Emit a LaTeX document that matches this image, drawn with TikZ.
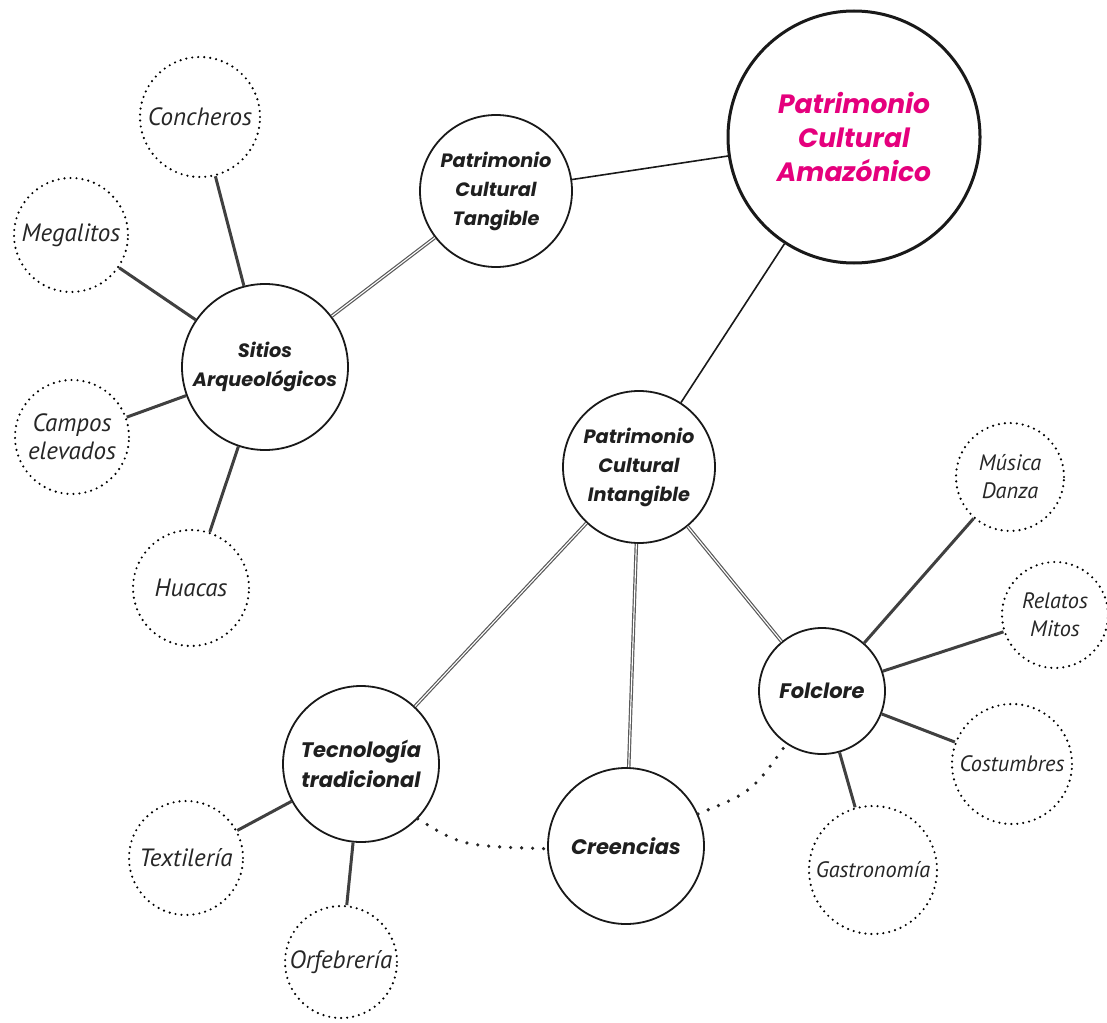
\documentclass[tikz,border=0pt]{standalone}
\usepackage{fontspec}
\newfontfamily\headfont{Poppins}
\newfontfamily\leaffont{PT Sans}
\definecolor{pcmag}{HTML}{E5007D}
\usetikzlibrary{calc}
\begin{document}
\begin{tikzpicture}[x=1pt,y=-1pt,
  hub/.style={circle, draw=black!90, line width=1.8pt, fill=white, inner sep=0pt, align=center, text=black!88,
    font=\headfont\bfseries\itshape\fontsize{19.3}{29}\selectfont},
  bighub/.style={hub, line width=3pt, text=pcmag, font=\headfont\bfseries\itshape\fontsize{26.5}{34}\selectfont},
  midhub/.style={hub, font=\headfont\bfseries\itshape\fontsize{21}{30}\selectfont},
  leaf/.style={circle, draw=black, line width=2.4pt, dash pattern=on 0pt off 6pt, line cap=round,
    inner sep=0pt, align=center, text=black!85, font=\leaffont\itshape\fontsize{25}{28}\selectfont},
  smallleaf/.style={leaf, font=\leaffont\itshape\fontsize{22.3}{28}\selectfont},
  plain/.style={line width=1.6pt, draw=black!90},
  dbl/.style={draw=black!65, line width=1.2pt, double=white, double distance=1.1pt},
  twig/.style={line width=3pt, draw=black!75},
  dotline/.style={line width=3.6pt, dash pattern=on 0pt off 11pt, line cap=round, draw=black!85}
]
\useasboundingbox (0,0) rectangle (1107,1022);

% main nodes
\node[bighub, minimum size=252pt] (amaz) at (854,137) {Patrimonio\\ Cultural\\Amazónico};
\node[hub, minimum size=152pt] (tang) at (496,191) {Patrimonio\\Cultural\\Tangible};
\node[hub, minimum size=166pt] (sitios) at (265,367) {Sitios\\Arqueológicos};
\node[hub, minimum size=152pt] (intang) at (639,467) {Patrimonio\\Cultural\\Intangible};
\node[midhub, minimum size=126pt] (folc) at (822,691) {Folclore};
\node[midhub, minimum size=156pt] (tec) at (361,764) {Tecnología\\tradicional};
\node[midhub, minimum size=156pt] (cre) at (626,846) {Creencias};

% leaves
\node[leaf, minimum size=120pt] (conch) at (200,117) {Concheros};
\node[leaf, minimum size=114pt] (mega) at (71,235) {Megalitos};
\node[leaf, minimum size=114pt] (campos) at (72,437) {Campos\\elevados};
\node[leaf, minimum size=116pt] (huacas) at (191,588) {Huacas};
\node[leaf, minimum size=114pt] (textil) at (186,858) {Textilería};
\node[leaf, minimum size=112pt] (orfeb) at (341,962) {Orfebrería};
\node[smallleaf, minimum size=108pt] (musica) at (1010,477) {Música\\Danza};
\node[smallleaf, minimum size=106pt] (relatos) at (1055,615) {Relatos\\Mitos};
\node[smallleaf, minimum size=120pt] (costum) at (1012,764) {Costumbres};
\node[smallleaf, minimum size=128pt] (gastro) at (873,870) {Gastronomía};

% connectors
\draw[plain] (amaz) -- (tang);
\draw[plain] (amaz) -- (intang);
\draw[dbl] (tang) -- (sitios);
\draw[dbl] (intang) -- (tec);
\draw[dbl] (intang) -- (cre);
\draw[dbl] (intang) -- (folc);
\draw[twig] (sitios) -- (conch);
\draw[twig] (sitios) -- (mega);
\draw[twig] (sitios) -- (campos);
\draw[twig] (sitios) -- (huacas);
\draw[twig] (tec) -- (textil);
\draw[twig] (tec) -- (orfeb);
\draw[twig] (folc) -- (musica);
\draw[twig] (folc) -- (relatos);
\draw[twig] (folc) -- (costum);
\draw[twig] (folc) -- (gastro);
\draw[dotline] (tec.-44) .. controls (462,846) .. (cre.182);
\draw[dotline] (cre.24) .. controls (752,792) .. (folc.236);
\end{tikzpicture}
\end{document}
